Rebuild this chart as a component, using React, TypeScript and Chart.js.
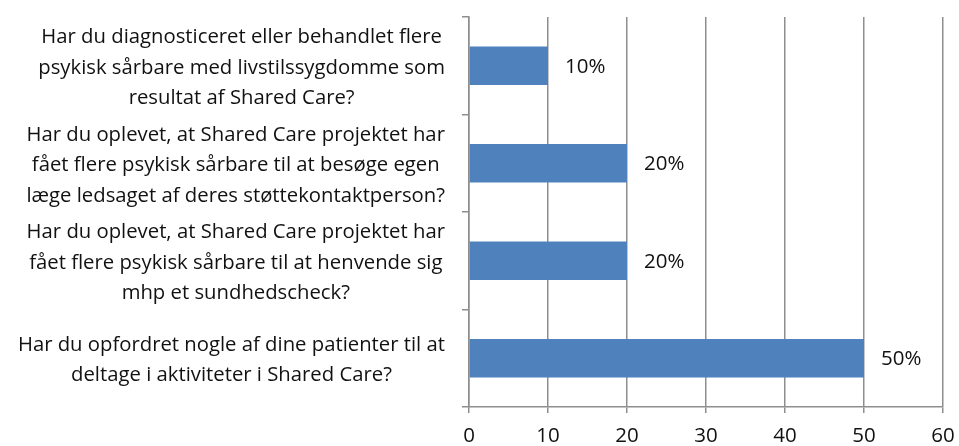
import React, { useEffect, useRef } from "react";
import { Chart, registerables } from "chart.js";

Chart.register(...registerables);

const categories: string[][] = [
  ["Har du diagnosticeret eller behandlet flere", "psykisk sårbare med livstilssygdomme som", "resultat af Shared Care?"],
  ["Har du oplevet, at Shared Care projektet har", "fået flere psykisk sårbare til at besøge egen", "læge ledsaget af deres støttekontaktperson?"],
  ["Har du oplevet, at Shared Care projektet har", "fået flere psykisk sårbare til at henvende sig", "mhp et sundhedscheck?"],
  ["Har du opfordret nogle af dine patienter til at", "deltage i aktiviteter i Shared Care?"],
];
const values: number[] = [10, 20, 20, 50];
const valueSuffix = "%";
const xMin = 0;
const xMax = 60;
const xStep = 10;

const FONT = "'Open Sans', 'DejaVu Sans', sans-serif";
const TEXT = "#111111";
const GRID = "#8e8e8e";
const BAR = "#4F81BD";

const labelPlugin = {
  id: "customLabels",
  afterDraw(chart: any) {
    const ctx = chart.ctx;
    const y = chart.scales.y;
    ctx.save();
    ctx.font = `20.3px ${FONT}`;
    ctx.fillStyle = TEXT;
    ctx.textBaseline = "middle";
    ctx.textAlign = "center";
    const rightEdge = 445;
    const lh = 30.5;
    categories.forEach((lines, i) => {
      const yc = y.getPixelForTick(i);
      const w = Math.max(...lines.map((l) => ctx.measureText(l).width));
      const cx = rightEdge - w / 2;
      const start = yc - ((lines.length - 1) / 2) * lh + 2;
      lines.forEach((l, j) => ctx.fillText(l, cx, start + j * lh));
    });
    ctx.font = `20.5px ${FONT}`;
    ctx.textAlign = "left";
    const meta = chart.getDatasetMeta(0);
    meta.data.forEach((bar: any, i: number) => {
      ctx.fillText(values[i] + valueSuffix, bar.x + 17, bar.y + 1);
    });
    ctx.restore();
  },
};

export default function App() {
  const ref = useRef<HTMLCanvasElement | null>(null);
  useEffect(() => {
    document.body.style.margin = "0";
    const chart = new Chart(ref.current!, {
      type: "bar",
      data: {
        labels: categories.map((c) => c.join(" ")),
        datasets: [
          {
            data: values,
            backgroundColor: BAR,
            categoryPercentage: 1,
            barPercentage: 0.397,
          },
        ],
      },
      options: {
        indexAxis: "y",
        animation: false,
        responsive: false,
        layout: { padding: { top: 17, right: 16, left: 0, bottom: 0 } },
        plugins: { legend: { display: false }, tooltip: { enabled: false } },
        scales: {
          x: {
            min: xMin,
            max: xMax,
            ticks: {
              stepSize: xStep,
              font: { family: FONT, size: 20.5 },
              color: TEXT,
              padding: 11,
            },
            grid: { color: GRID, lineWidth: 1.5, tickLength: 6 },
            border: { color: GRID, width: 1.5 },
            afterFit: (s: any) => {
              s.height = 39;
              s.paddingLeft = 0;
              s.paddingRight = 0;
            },
          },
          y: {
            ticks: { display: false },
            grid: { offset: true, drawOnChartArea: false, color: GRID, lineWidth: 1.5, tickLength: 7 },
            border: { color: GRID, width: 1.5 },
            afterFit: (s: any) => {
              s.width = 469;
            },
          },
        },
      },
      plugins: [labelPlugin],
    });
    return () => chart.destroy();
  }, []);
  return <canvas ref={ref} width={959} height={446} style={{ display: "block" }} />;
}
